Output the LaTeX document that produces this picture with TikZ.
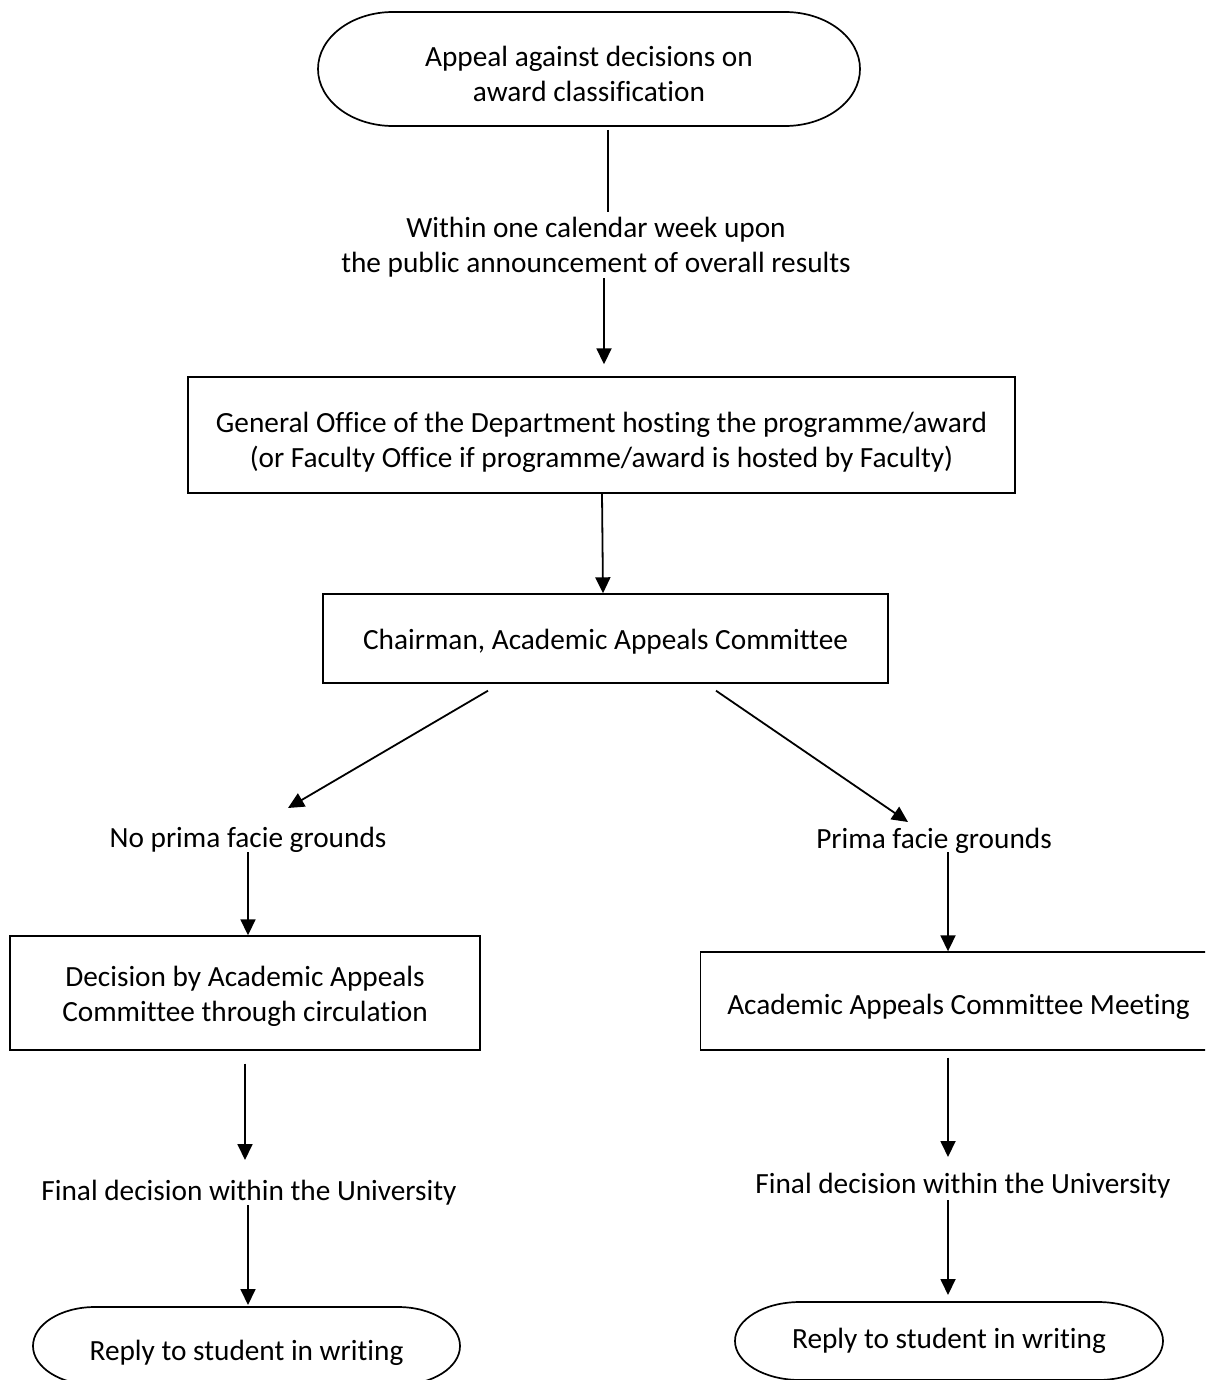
\documentclass[tikz,border=0pt]{standalone}
\usepackage{fontspec}
\setmainfont{Carlito}[Ligatures=NoCommon]
\usetikzlibrary{arrows.meta}
\newcommand{\termshape}[3]{\draw[termline] ([xshift=#2]#1.north west) -- ([xshift=-#2]#1.north east) arc[start angle=90,end angle=-90,x radius=#2,y radius=#3] -- ([xshift=#2]#1.south west) arc[start angle=270,end angle=90,x radius=#2,y radius=#3] -- cycle;}
\newcommand{\dn}[1]{\rule{0pt}{#1}}
\begin{document}
\begin{tikzpicture}[x=1pt,y=-1pt,
  every node/.style={font=\fontsize{29.3}{35}\selectfont},
  box/.style={draw, line width=1.4pt, inner sep=0pt, align=center},
  term/.style={inner sep=0pt, outer sep=0pt, align=center},
  termline/.style={line width=1.7pt},
  txt/.style={inner sep=0pt, align=center},
  down/.style={execute at begin node={\rule{0pt}{#1}}},
  arr/.style={line width=1.8pt, -{Triangle[length=16pt,width=15pt]}},
  ln/.style={line width=1.8pt}]
\useasboundingbox (0,0) rectangle (1205,1380);
\clip (0,0) rectangle (1205,1380);

\node[term, minimum width=542pt, minimum height=114pt] (top) at (589,69) {\dn{30pt}Appeal against decisions on\\award classification};
\node[txt] (lab1) at (596,247) {Within one calendar week upon\\the public announcement of overall results};
\node[box, minimum width=827pt, minimum height=116pt] (gen) at (601.5,435) {\dn{35pt}General Office of the Department hosting the programme/award\\(or Faculty Office if programme/award is hosted by Faculty)};
\node[box, down=27pt, minimum width=565pt, minimum height=89pt] (chair) at (605.5,638.5) {Chairman, Academic Appeals Committee};
\node[txt] (noprima) at (248,840) {No prima facie grounds};
\node[txt] (prima) at (934,841) {Prima facie grounds};
\node[box, minimum width=470pt, minimum height=114pt] (circ) at (245,993) {\dn{28pt}Decision by Academic Appeals\\Committee through circulation};
\node[box, down=33pt, minimum width=516pt, minimum height=98pt] (meet) at (958.5,1001) {Academic Appeals Committee Meeting};
\node[txt] (finL) at (249,1193) {Final decision within the University};
\node[txt] (finR) at (963,1186) {Final decision within the University};
\node[term, down=35pt, minimum width=427pt, minimum height=78pt] (repL) at (246.5,1346) {Reply to student in writing};
\node[term, minimum width=428pt, minimum height=78pt] (repR) at (949,1341) {Reply to student in writing};

\termshape{top}{75pt}{57pt}
\termshape{repL}{62pt}{39pt}
\termshape{repR}{65pt}{39pt}

\draw[ln] ([xshift=19pt,yshift=-4pt]top.south) -- ([xshift=12pt,yshift=35pt]lab1.center);
\draw[arr] ([xshift=8pt,yshift=-31pt]lab1.center) -- ([xshift=2.5pt,yshift=12pt]gen.north);
\draw[arr] ([xshift=0.5pt]gen.south) -- ([xshift=-2.5pt]chair.north);
\draw[arr] ([xshift=-117.5pt,yshift=-7pt]chair.south) -- ([xshift=40pt,yshift=32pt]noprima.center);
\draw[arr] ([xshift=110.5pt,yshift=-7pt]chair.south) -- ([xshift=-26pt,yshift=19pt]prima.center);
\draw[arr] ([yshift=-12pt]noprima.center) -- ([xshift=3pt]circ.north);
\draw[arr] ([xshift=14pt,yshift=-11pt]prima.center) -- ([xshift=-10.5pt]meet.north);
\draw[arr] ([yshift=-13pt]circ.south) -- ([xshift=-4pt,yshift=33pt]finL.center);
\draw[arr] ([xshift=-1pt,yshift=-12pt]finL.center) -- ([xshift=1.5pt,yshift=2pt]repL.north);
\draw[arr] ([xshift=-10.5pt,yshift=-7pt]meet.south) -- ([xshift=-15pt,yshift=29pt]finR.center);
\draw[arr] ([xshift=-15pt,yshift=-14pt]finR.center) -- ([xshift=-1pt,yshift=7pt]repR.north);
\end{tikzpicture}
\end{document}
